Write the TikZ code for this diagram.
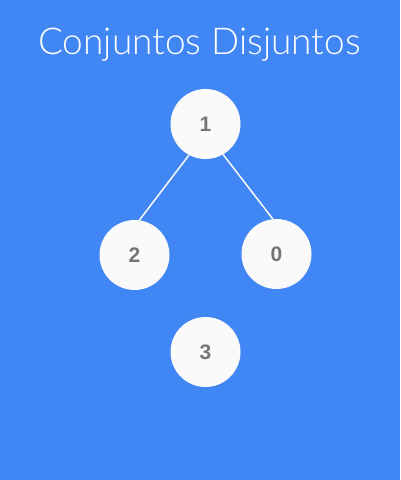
\documentclass[tikz,border=0pt]{standalone}
\usepackage{fontspec}
\setmainfont{Liberation Sans}
\newfontfamily\titlefont{Lato Light}
\definecolor{bg}{HTML}{4086F4}
\definecolor{nodefill}{HTML}{FAFAFA}
\definecolor{digit}{HTML}{757575}
\begin{document}
\begin{tikzpicture}[x=1pt,y=1pt,
  vert/.style={circle,fill=nodefill,minimum size=70pt,inner sep=0pt,
    font=\fontsize{21}{24}\selectfont\bfseries,text=digit},
  edge/.style={draw=nodefill,line width=1.5pt}]
\fill[bg] (0,0) rectangle (400,480);
\useasboundingbox (0,0) rectangle (400,480);
\node[anchor=base,text=white,font=\titlefont\fontsize{37}{42}\selectfont] (title) at (199.5,425.5) {Conjuntos Disjuntos};
\node[vert] (n1) at (205.5,356) {1};
\node[vert] (n2) at (134.5,225) {2};
\node[vert] (n0) at (276.5,226) {0};
\node[vert] (n3) at (205.5,128) {3};
\draw[edge] (n1.242) -- (n2.82);
\draw[edge] (n1.300) -- (n0.96);
\end{tikzpicture}
\end{document}
